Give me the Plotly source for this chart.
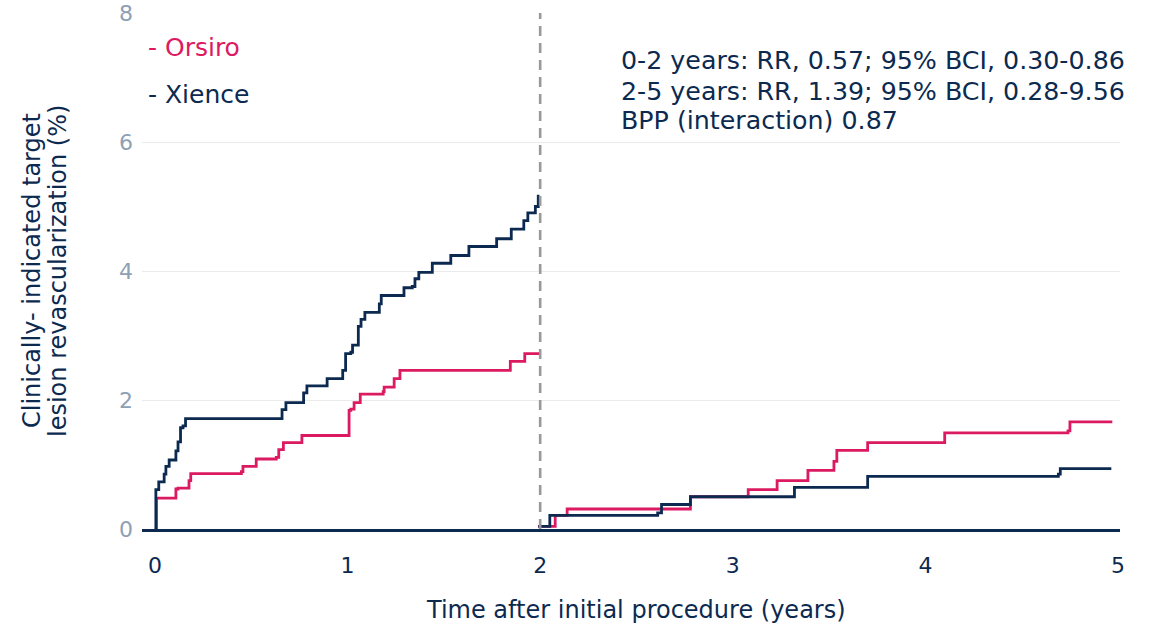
import plotly.graph_objects as go

# ---- data ----
xience_t_0_2 = [0, 0.005, 0.02, 0.048, 0.057, 0.074, 0.109, 0.12, 0.133, 0.146, 0.159,
                0.66, 0.68, 0.772, 0.789, 0.894, 0.975, 0.99, 1.017, 1.026, 1.056, 1.07,
                1.09, 1.165, 1.175, 1.293, 1.336, 1.35, 1.37, 1.44, 1.536, 1.63, 1.774,
                1.85, 1.915, 1.936, 1.975, 1.99, 1.996]
xience_v_0_2 = [0, 0.61, 0.73, 0.85, 0.97, 1.07, 1.21, 1.35, 1.57, 1.60, 1.71,
                1.85, 1.96, 2.11, 2.22, 2.33, 2.46, 2.72, 2.74, 2.85, 3.14, 3.25,
                3.36, 3.49, 3.62, 3.74, 3.76, 3.88, 3.98, 4.12, 4.24, 4.38, 4.50,
                4.65, 4.78, 4.90, 5.00, 5.16, 5.16]

orsiro_t_0_2 = [0, 0.008, 0.109, 0.12, 0.177, 0.186, 0.449, 0.457, 0.526, 0.63, 0.643,
                0.667, 0.763, 1.008, 1.017, 1.034, 1.066, 1.185, 1.19, 1.242, 1.272,
                1.845, 1.92, 1.996]
orsiro_v_0_2 = [0, 0.48, 0.62, 0.635, 0.75, 0.86, 0.89, 0.97, 1.085, 1.11, 1.23,
                1.34, 1.45, 1.84, 1.86, 1.96, 2.09, 2.13, 2.20, 2.33, 2.46,
                2.60, 2.72, 2.72]

xience_t_2_5 = [1.99, 2.05, 2.61, 2.63, 2.78, 3.32, 3.70, 4.69, 4.70, 4.965]
xience_v_2_5 = [0.04, 0.21, 0.25, 0.38, 0.50, 0.645, 0.815, 0.85, 0.935, 0.935]

orsiro_t_2_5 = [1.99, 2.078, 2.14, 2.78, 3.08, 3.23, 3.39, 3.525, 3.54, 3.70, 4.10,
                4.74, 4.75, 4.97]
orsiro_v_2_5 = [0.04, 0.21, 0.31, 0.50, 0.61, 0.75, 0.91, 1.05, 1.22, 1.34, 1.49,
                1.52, 1.66, 1.66]

x_ticks = [0, 1, 2, 3, 4, 5]
y_ticks = [0, 2, 4, 6, 8]
landmark = 2

stats_lines = ["0-2 years: RR, 0.57; 95% BCI, 0.30-0.86",
               "2-5 years: RR, 1.39; 95% BCI, 0.28-9.56",
               "BPP (interaction) 0.87"]
y_title_lines = ["Clinically- indicated target", "lesion revascularization (%)"]
x_title = "Time after initial procedure (years)"

NAVY = "#0c2a50"
PINK = "#dc1a62"
TICKGRAY = "#8ea0b4"
FONT = "DejaVu Sans"
FS = 24

fig = go.Figure()

for t, v in [(orsiro_t_0_2, orsiro_v_0_2), (orsiro_t_2_5, orsiro_v_2_5)]:
    fig.add_trace(go.Scatter(x=t, y=v, mode="lines", line=dict(color=PINK, width=2.8, shape="hv"),
                             showlegend=False, hoverinfo="skip"))
for t, v in [(xience_t_0_2, xience_v_0_2), (xience_t_2_5, xience_v_2_5)]:
    fig.add_trace(go.Scatter(x=t, y=v, mode="lines", line=dict(color=NAVY, width=2.8, shape="hv"),
                             showlegend=False, hoverinfo="skip"))

# landmark dashed line
fig.add_trace(go.Scatter(x=[landmark, landmark], y=[0, 8], mode="lines",
                         line=dict(color="#999999", width=2.6, dash="10px,7px"),
                         showlegend=False, hoverinfo="skip"))

annotations = []
# legend-like labels
annotations.append(dict(xref="paper", yref="y", x=0, xshift=4, y=7.46, xanchor="left", yanchor="middle",
                        text="- Orsiro", showarrow=False, font=dict(family=FONT, size=25, color=PINK)))
annotations.append(dict(xref="paper", yref="y", x=0, xshift=4, y=6.73, xanchor="left", yanchor="middle",
                        text="- Xience", showarrow=False, font=dict(family=FONT, size=25, color=NAVY)))
# stats
for line, yy in zip(stats_lines, [7.26, 6.79, 6.34]):
    annotations.append(dict(xref="x", yref="y", x=2.41, y=yy, xanchor="left", yanchor="middle",
                            text=line, showarrow=False, font=dict(family=FONT, size=25.3, color=NAVY)))
# y title (two lines)
for line, xs in zip(y_title_lines, [-110, -84]):
    annotations.append(dict(xref="paper", yref="paper", x=0, xshift=xs, y=0.5, xanchor="center",
                            yanchor="middle", textangle=-90, text=line,
                            showarrow=False, font=dict(family=FONT, size=FS, color=NAVY)))
# x title
annotations.append(dict(xref="paper", yref="paper", x=0.505, y=0, yshift=-81, xanchor="center", yanchor="middle",
                        text=x_title, showarrow=False, font=dict(family=FONT, size=FS, color=NAVY)))

fig.update_layout(
    width=1158, height=627,
    margin=dict(l=142, r=38, t=13, b=98),
    paper_bgcolor="white", plot_bgcolor="white",
    font=dict(family=FONT, size=FS, color=NAVY),
    annotations=annotations,
    xaxis=dict(range=[-0.067, 5.01], tickvals=x_ticks, ticktext=[str(v) for v in x_ticks],
               showgrid=False, zeroline=False, showline=True, linecolor=NAVY, linewidth=3,
               tickfont=dict(family=FONT, size=FS - 2, color=NAVY), ticks="", ticklabelstandoff=15,
               automargin=False),
    yaxis=dict(range=[0, 8], tickvals=y_ticks, ticktext=[str(v) for v in y_ticks],
               showgrid=True, gridcolor="#ebebeb", gridwidth=1, zeroline=False, showline=False,
               tickfont=dict(family=FONT, size=FS - 2, color=TICKGRAY), ticks="", ticklabelstandoff=8,
               automargin=False),
)

fig.write_html("out.html")
